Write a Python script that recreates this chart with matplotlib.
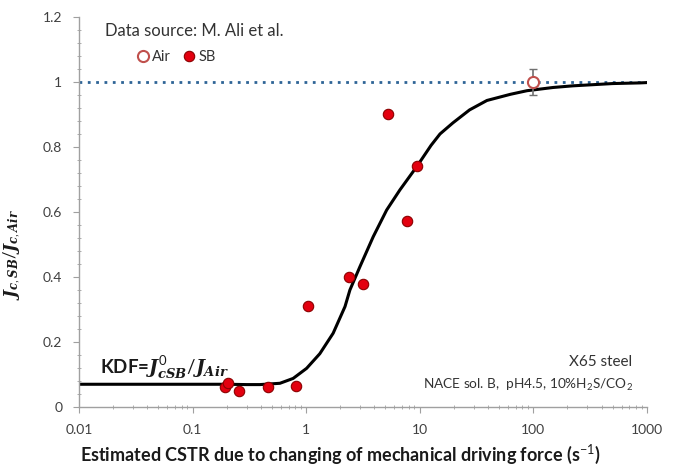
import matplotlib.pyplot as plt
import matplotlib.ticker as mticker
import numpy as np

plt.rcParams['font.family'] = ['Lato', 'DejaVu Sans']
plt.rcParams['mathtext.fontset'] = 'custom'
plt.rcParams['mathtext.rm'] = 'Lato'
plt.rcParams['mathtext.it'] = 'DejaVu Serif:italic:bold'
plt.rcParams['mathtext.bf'] = 'Lato:bold'

# SB (sour brine) test results
sb_cstr = [0.193, 0.205, 0.256, 0.461, 0.81, 1.04, 2.38, 3.16, 5.28, 7.67, 9.55]
sb_ratio = [0.062, 0.074, 0.049, 0.062, 0.065, 0.311, 0.40, 0.378, 0.90, 0.572, 0.742]

# Air reference
air_cstr = [100]
air_ratio = [1.0]
air_err = [0.04]

# KDF model curve
curve_cstr = [0.01, 0.05, 0.1, 0.2, 0.3, 0.392, 0.588, 0.769, 1.01, 1.32, 1.73,
              2.20, 2.43, 2.98, 3.90, 5.12, 6.70, 9.40, 12.6, 15.1, 19.6, 27.5,
              39.1, 63, 88, 150, 223, 500, 867, 1000]
curve_ratio = [0.07, 0.07, 0.07, 0.07, 0.069, 0.069, 0.073, 0.088, 0.119, 0.164, 0.227,
               0.309, 0.36, 0.432, 0.524, 0.606, 0.668, 0.739, 0.805, 0.84, 0.874, 0.914,
               0.943, 0.962, 0.973, 0.983, 0.988, 0.995, 0.997, 0.998]

ref_x = [0.01, 1000]
ref_y = [1.0, 1.0]

fig = plt.figure(figsize=(6.78, 4.70), dpi=100)
ax = fig.add_axes([0.1165, 0.134, 0.8375, 0.83])

ax.plot(ref_x, ref_y, linestyle=(0, (1, 2)), color='#2e6496', linewidth=2, zorder=1)
ax.plot(curve_cstr, curve_ratio, color='black', linewidth=2.2, zorder=2)
ax.errorbar(air_cstr, air_ratio, yerr=air_err, fmt='none', ecolor='#707070',
            elinewidth=1.2, capsize=3, zorder=3)
air = ax.plot(air_cstr, air_ratio, 'o', markersize=8, markerfacecolor='white',
              markeredgecolor='#c0504d', markeredgewidth=1.5, linestyle='none',
              label='Air', zorder=4)[0]
sb = ax.plot(sb_cstr, sb_ratio, 'o', markersize=7.5, markerfacecolor='#e3000f',
             markeredgecolor='#8b0000', markeredgewidth=0.8, linestyle='none',
             label='SB', zorder=5)[0]

ax.set_xscale('log')
ax.set_xlim(0.01, 1000)
ax.set_ylim(0, 1.2)

ax.xaxis.set_major_locator(mticker.LogLocator(base=10))
ax.xaxis.set_major_formatter(mticker.FuncFormatter(lambda v, p: ('%g' % v)))
ax.xaxis.set_minor_locator(mticker.LogLocator(base=10, subs=np.arange(2, 10)))
ax.xaxis.set_minor_formatter(mticker.NullFormatter())
ax.yaxis.set_major_locator(mticker.MultipleLocator(0.2))
ax.yaxis.set_minor_locator(mticker.MultipleLocator(0.04))
ax.yaxis.set_major_formatter(mticker.FuncFormatter(lambda v, p: ('%g' % round(v, 2))))

for side in ['top', 'right']:
    ax.spines[side].set_visible(False)
for side in ['left', 'bottom']:
    ax.spines[side].set_color('#a0a0a0')
    ax.spines[side].set_linewidth(1)

ax.tick_params(which='major', direction='out', length=4, color='#a0a0a0',
               labelsize=10, labelcolor='#404040', pad=8)
ax.tick_params(which='minor', direction='inout', length=3, color='#a0a0a0')

ax.set_xlabel('Estimated CSTR due to changing of mechanical driving force (s$^{-1}$)',
              fontsize=13, fontweight='bold', color='#1a1a1a', va='center')
ax.xaxis.set_label_coords(0.46, -0.12)
ax.set_ylabel(r'$J_{c,SB}/J_{c,Air}$', fontsize=12, color='#1a1a1a')
ax.yaxis.set_label_coords(-0.1, 0.39)

ax.text(0.045, 0.965, 'Data source: M. Ali et al.', transform=ax.transAxes,
        fontsize=12, color='#333333', va='center', ha='left')
ax.legend(handles=[air, sb], loc='center', bbox_to_anchor=(0.17, 0.897),
          ncol=2, frameon=False, fontsize=10.5, handletextpad=0.1,
          columnspacing=0.8, handlelength=1, labelcolor='#333333')

ax.text(0.037, 0.12, r'KDF=$J^{0}_{cSB}/J_{Air}$', transform=ax.get_yaxis_transform(),
        fontsize=13.5, fontweight='bold', color='#1a1a1a', va='center', ha='left')
ax.text(0.975, 0.138, 'X65 steel', transform=ax.get_yaxis_transform(),
        fontsize=11, color='#333333', va='center', ha='right')
ax.text(0.975, 0.068, r'NACE sol. B,  pH4.5, 10%H$_2$S/CO$_2$',
        transform=ax.get_yaxis_transform(),
        fontsize=9.8, color='#333333', va='center', ha='right')

fig.savefig('out.png', dpi=100)
